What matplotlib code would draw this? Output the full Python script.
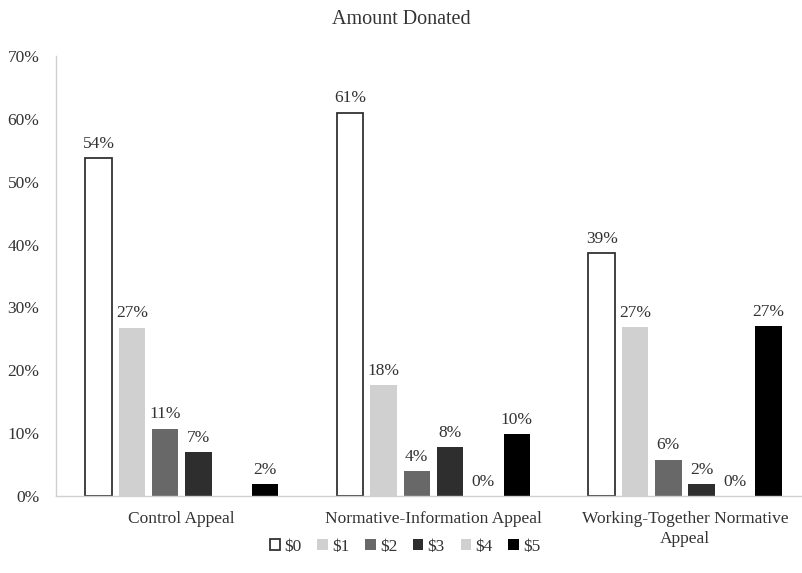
import matplotlib.pyplot as plt
import numpy as np

# Share of donors at each amount, per appeal (percent)
appeals = ["Control Appeal", "Normative-Information Appeal", "Working-Together Normative\nAppeal"]
amounts = ["$0", "$1", "$2", "$3", "$4", "$5"]
control = [53.8, 26.8, 10.7, 7.0, None, 1.9]
normative_info = [61.0, 17.6, 3.9, 7.8, 0.0, 9.8]
working_together = [38.6, 26.9, 5.8, 1.9, 0.0, 27.0]

fills = ["#ffffff", "#d0d0d0", "#686868", "#2e2e2e", "#d0d0d0", "#000000"]
line_w = [1.3, 0, 0, 0, 0, 0]

plt.rcParams["font.family"] = ["Liberation Serif", "DejaVu Serif"]
text_color = "#333333"

fig = plt.figure(figsize=(8.02, 5.73), dpi=100)
ax = fig.add_axes([56 / 802, 77 / 573, 746 / 802, 440 / 573])

series = np.array([control, normative_info, working_together], dtype=float).T
x = np.arange(len(appeals))
slot = 0.1325
width = 0.105

for i, (label, vals) in enumerate(zip(amounts, series)):
    offs = x + (i - 2.5) * slot
    ax.bar(offs, np.nan_to_num(vals), width, color=fills[i], edgecolor="#333333",
           linewidth=line_w[i], label=label)
    for xo, v in zip(offs, vals):
        if np.isnan(v):
            continue
        ax.text(xo, v + 1.0, f"{v:.0f}%", ha="center", va="bottom",
                fontsize=12.5, color=text_color)

ax.set_xlim(-0.5, -0.5 + 746 / 251.6)
ax.set_ylim(0, 70)
ax.set_yticks(range(0, 71, 10))
ax.set_yticklabels([f"{t}%" for t in range(0, 71, 10)])
ax.set_xticks(x)
ax.set_xticklabels(appeals, linespacing=1.4)
ax.tick_params(axis="both", length=0, labelsize=12.5, labelcolor=text_color)
ax.tick_params(axis="y", pad=12)
ax.tick_params(axis="x", pad=10.5)

for side in ["top", "right"]:
    ax.spines[side].set_visible(False)
for side in ["left", "bottom"]:
    ax.spines[side].set_color("#d0d0d0")
    ax.spines[side].set_linewidth(1.0)

fig.text(0.5, 1 - 20 / 573, "Amount Donated", ha="center", va="center",
         fontsize=14.5, color=text_color)

fig.legend(loc="center", bbox_to_anchor=(405 / 802, 1 - 547 / 573), ncol=6,
           frameon=False, fontsize=12.5, handlelength=0.6, handleheight=0.6,
           handletextpad=0.25, columnspacing=0.9, labelcolor=text_color)

fig.savefig("out.png", dpi=100)
